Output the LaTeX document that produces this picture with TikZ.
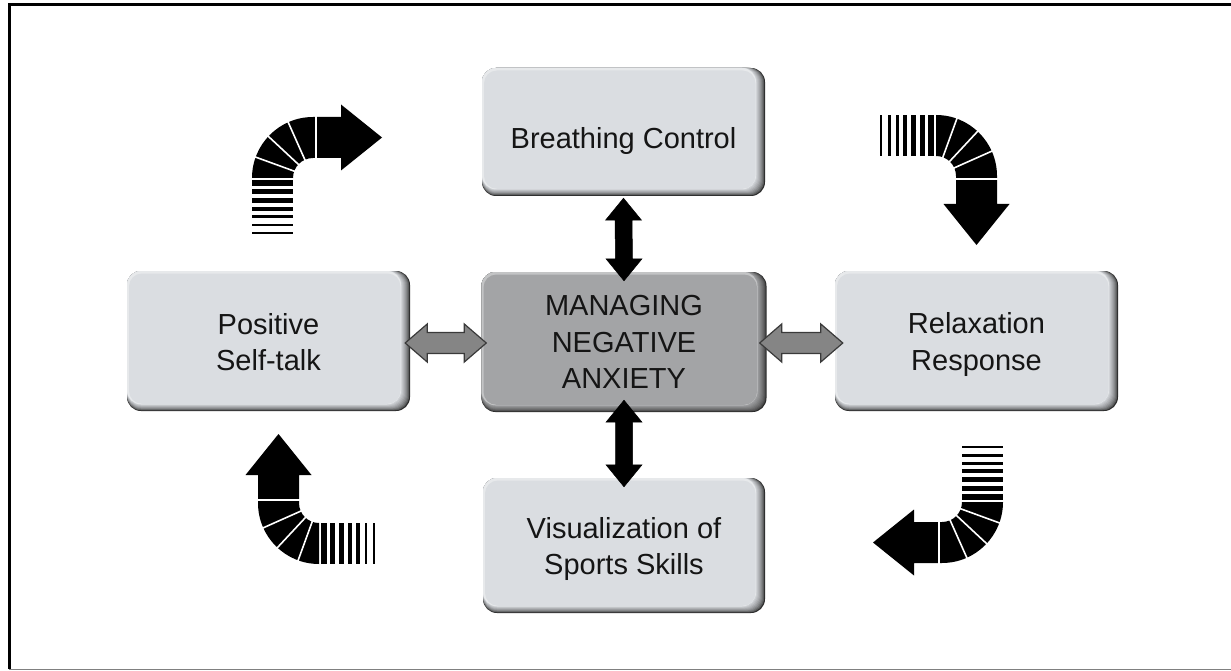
\documentclass[tikz,border=0pt]{standalone}
\usepackage{fontspec}
\setmainfont{Liberation Sans}
\usetikzlibrary{calc}
\definecolor{lightfill}{HTML}{DADDE1}
\definecolor{midfill}{HTML}{A3A4A6}
\definecolor{edgecol}{HTML}{2A2A2A}
\definecolor{grayarrow}{HTML}{858585}
\definecolor{grayline}{HTML}{3A3A3A}
\definecolor{textcol}{HTML}{151515}

\newcommand{\bevelpic}[1]{%
  \foreach \k in {1,...,9}{%
    \pgfmathsetmacro\mixp{100*(\k/9)^0.6}%
    \pgfmathsetmacro\dxx{\k*1.0}%
    \pgfmathsetmacro\dyy{\k*0.75}%
    \fill[fill=#1!\mixp!edgecol, rounded corners=14pt]
      (path picture bounding box.north west) rectangle
      ([xshift=-\dxx pt, yshift=\dyy pt]path picture bounding box.south east);
  }%
  \fill[fill=#1!65!white, rounded corners=14pt]
      (path picture bounding box.north west) rectangle
      ([xshift=-9pt, yshift=6.75pt]path picture bounding box.south east);
  \fill[fill=#1, rounded corners=13pt]
      ([xshift=2pt, yshift=-2.5pt]path picture bounding box.north west) rectangle
      ([xshift=-9.5pt, yshift=7.2pt]path picture bounding box.south east);
}

\newcommand{\curly}{%
  \fill[black] (-61,0) arc[start angle=180, end angle=270, radius=61]
    -- (28,-61) -- (28,-73.5) -- (69,-40.5) -- (28,-7.5) -- (28,-20) -- (0,-20)
    arc[start angle=270, end angle=180, radius=20] -- cycle;
  \foreach \a in {200,223,246} \draw[white, line width=1.6pt] (\a:17) -- (\a:64);
  \draw[white, line width=1.6pt] (3,-18) -- (3,-63);
  \foreach \a/\b in {2/8, 11/16.35, 19.85/24.55, 28.55/32.6, 37.1/40.5, 45.5/48.25, 53.75/55.85}
    \fill[black] (-61,\a) rectangle (-20,\b);
}

\newcommand{\hdarrow}[3]{%
  \filldraw[#3] let \p1=(#1), \p2=(#2) in
    (\x1,\y1) -- (\x1+22pt,\y1+19pt) -- (\x1+22pt,\y1+10.5pt) -- (\x2-22pt,\y2+10.5pt)
    -- (\x2-22pt,\y2+19pt) -- (\x2,\y2) -- (\x2-22pt,\y2-19pt) -- (\x2-22pt,\y2-10.5pt)
    -- (\x1+22pt,\y1-10.5pt) -- (\x1+22pt,\y1-19pt) -- cycle;
}
\newcommand{\vdarrow}[3]{%
  \filldraw[#3] let \p1=(#1), \p2=(#2) in
    (\x1,\y1) -- (\x1+18pt,\y1-22pt) -- (\x1+8.5pt,\y1-22pt) -- (\x2+8.5pt,\y2+22pt)
    -- (\x2+18pt,\y2+22pt) -- (\x2,\y2) -- (\x2-18pt,\y2+22pt) -- (\x2-8.5pt,\y2+22pt)
    -- (\x1-8.5pt,\y1-22pt) -- (\x1-18pt,\y1-22pt) -- cycle;
}

\tikzset{
  box/.style={rounded corners=14pt, fill=edgecol, inner sep=0pt, align=center,
    text=textcol, font=\fontsize{29}{36.5}\selectfont},
  lightbox/.style={box, path picture={\bevelpic{lightfill}}},
  midbox/.style={box, path picture={\bevelpic{midfill}}},
  grayarr/.style={fill=grayarrow, draw=grayline, line width=1.2pt, line join=miter},
  blackarr/.style={fill=black, draw=black, line width=0.5pt}
}

\begin{document}
\begin{tikzpicture}[x=1pt, y=-1pt]
\useasboundingbox (0,0) rectangle (1231,671);
\fill[white] (0,0) rectangle (1231,671);
% frame
\draw[line width=3pt] (9,669) -- (9,5) -- (1231,5);
\draw[gray, line width=1.5pt] (9,669.5) -- (1231,669.5);

% boxes
\node[lightbox, minimum width=283pt, minimum height=128pt, text height=32.8pt, text depth=0pt] (bc) at (623.5,132) {Breathing Control};
\node[lightbox, minimum width=283pt, minimum height=140pt] (ps) at (268.5,341) {\rule{0pt}{23pt}Positive\\Self-talk};
\node[midbox, minimum width=285pt, minimum height=140pt] (mg) at (624,342) {MANAGING\\NEGATIVE\\ANXIETY};
\node[lightbox, minimum width=283pt, minimum height=140pt] (rr) at (976.5,341) {\rule{0pt}{28.5pt}Relaxation\\Response};
\node[lightbox, minimum width=282pt, minimum height=135pt] (vs) at (624,545.5) {\rule{0pt}{28pt}Visualization of\\Sports Skills};

% connectors
\hdarrow{$(ps.east)+(-5,2)$}{$(mg.west)+(5,1)$}{grayarr}
\hdarrow{$(mg.east)+(-7,1)$}{$(rr.west)+(8,2)$}{grayarr}
\vdarrow{$(bc.south)+(0,2)$}{$(mg.north)+(0,9)$}{blackarr}
\vdarrow{$(mg.south)+(0,-12)$}{$(vs.north)+(0,9)$}{blackarr}

% curved arrows
\begin{scope}[shift={(313,178)}] \curly \end{scope}
\begin{scope}[shift={(936,176)}, rotate=-90] \curly \end{scope}
\begin{scope}[shift={(942,502)}, rotate=180] \curly \end{scope}
\begin{scope}[shift={(319,503)}, rotate=90] \curly \end{scope}
\end{tikzpicture}
\end{document}
